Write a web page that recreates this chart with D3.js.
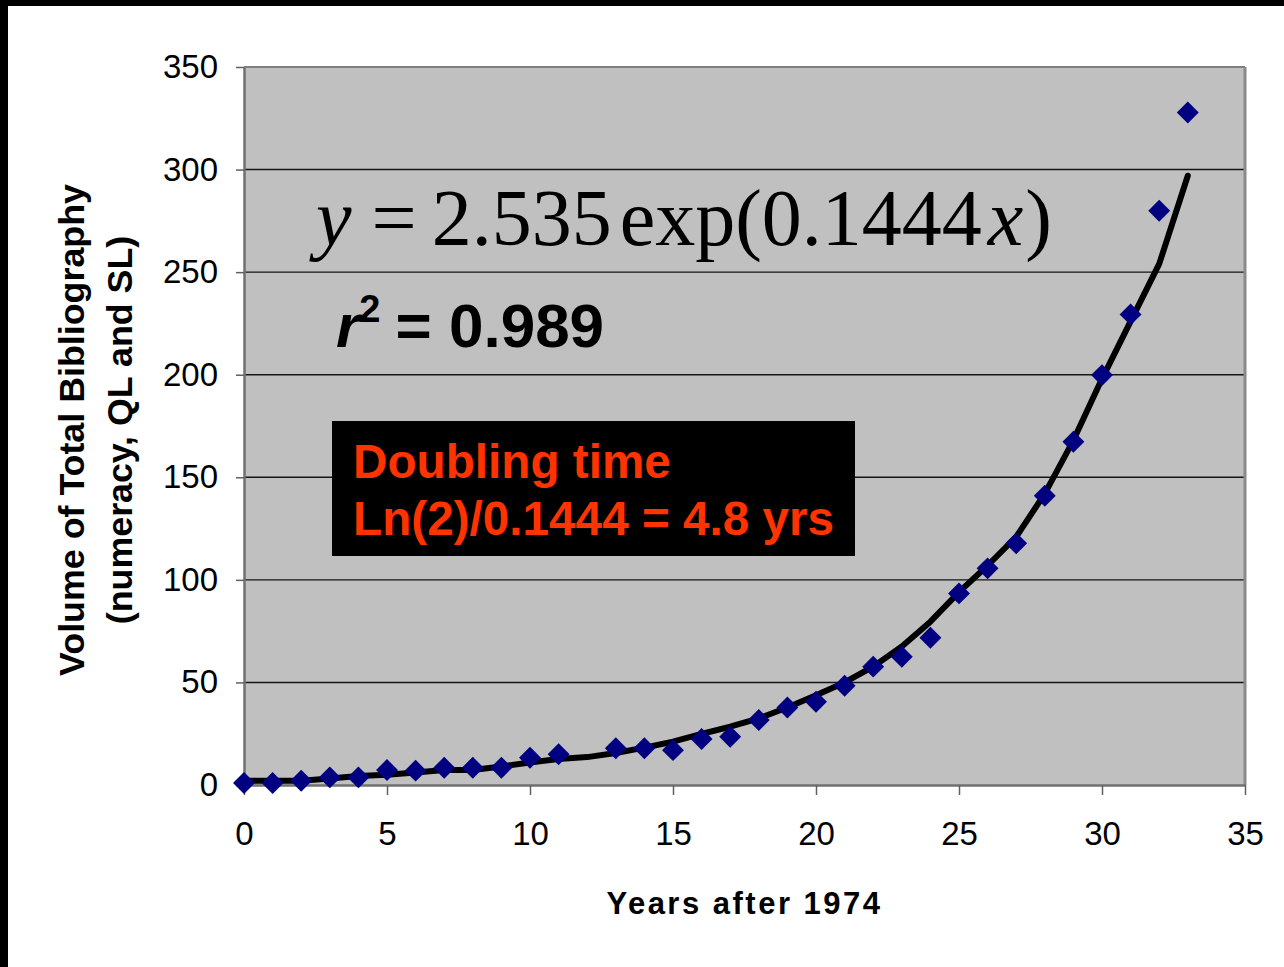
<!DOCTYPE html>
<html>
<head>
<meta charset="utf-8">
<script src="https://cdn.jsdelivr.net/npm/d3@7/dist/d3.min.js"></script>
<style>
  html, body { margin: 0; padding: 0; background: #ffffff; }
  svg { display: block; }
</style>
</head>
<body>
<svg id="chart" width="1284" height="967"></svg>
<script>
// ---- data ----
const years  = [0,1,2,3,4,5,6,7,8,9,10,11,13,14,15,16,17,18,19,20,21,22,23,24,25,26,27,28,29,30,31,32,33];
const volume = [1,1,2.1,3.7,3.7,7.3,7,8.4,8.4,8.4,13.3,15,17.9,17.9,17,22.4,23.5,31.7,37.8,40.6,48.4,57.7,62.5,71.8,93.4,105.6,117.8,141,167.3,199.8,229.4,279.9,327.8];
const fitYears  = [0,1,2,3,4,5,6,7,8,9,10,11,12,13,14,15,16,17,18,19,20,21,22,23,24,25,26,27,28,29,30,31,32,33];
const fitValues = [2.1,2.1,2.1,3.2,4.4,5.0,6.1,7.3,7.3,9.0,11.0,12.7,13.6,15.6,18.2,21.1,24.9,28.4,32.5,37.8,43.8,50.0,57.7,67.5,79.6,94,107,121,142,168,198,226,254,297];
const xTicks = [0,5,10,15,20,25,30,35];
const yTicks = [0,50,100,150,200,250,300,350];
const xTitle = "Years after 1974";
const yTitle1 = "Volume of Total Bibliography";
const yTitle2 = "(numeracy, QL and SL)";
const boxLine1 = "Doubling time";
const boxLine2 = "Ln(2)/0.1444 = 4.8 yrs";

(function(){
const svg = d3.select("#chart");
const W = 1284, H = 967;
const pLeft = 244, pRight = 1245, pTop = 67, pBottom = 785;

const x = d3.scaleLinear().domain([0,35]).range([pLeft,pRight]);
const y = d3.scaleLinear().domain([0,350]).range([pBottom,pTop]);

// page frame (black edges at top and left)
svg.append("rect").attr("x",0).attr("y",0).attr("width",W).attr("height",H).attr("fill","#fff");
svg.append("rect").attr("x",0).attr("y",0).attr("width",W).attr("height",6).attr("fill","#000");
svg.append("rect").attr("x",0).attr("y",0).attr("width",8).attr("height",H).attr("fill","#000");

// plot area
svg.append("rect").attr("x",pLeft).attr("y",pTop).attr("width",pRight-pLeft).attr("height",pBottom-pTop)
  .attr("fill","#c0c0c0");

// gridlines
svg.append("g").selectAll("line").data(yTicks.filter(d => d>0 && d<350)).join("line")
  .attr("x1",pLeft).attr("x2",pRight).attr("y1",d=>y(d)).attr("y2",d=>y(d))
  .attr("stroke","#141414").attr("stroke-width",1.4);

// borders top & right
svg.append("line").attr("x1",pLeft).attr("x2",pRight).attr("y1",pTop).attr("y2",pTop)
  .attr("stroke","#808080").attr("stroke-width",2);
svg.append("line").attr("x1",pRight).attr("x2",pRight).attr("y1",pTop).attr("y2",pBottom)
  .attr("stroke","#8a8a8a").attr("stroke-width",3);

// axes
const fontSans = "Arial, 'Liberation Sans', Helvetica, sans-serif";
const yAxis = svg.append("g").attr("transform",`translate(${pLeft},0)`)
  .call(d3.axisLeft(y).tickValues(yTicks).tickSize(8).tickPadding(18).tickSizeOuter(0));
const xAxis = svg.append("g").attr("transform",`translate(0,${pBottom})`)
  .call(d3.axisBottom(x).tickValues(xTicks).tickSize(10).tickPadding(27).tickSizeOuter(0));
[yAxis, xAxis].forEach(g => {
  g.select(".domain").attr("stroke","#707070").attr("stroke-width",2.5);
  g.selectAll(".tick line").attr("stroke","#606060").attr("stroke-width",1.5);
  g.selectAll(".tick text").attr("fill","#000").attr("font-family",fontSans).attr("font-size",33);
});

// fitted curve
const lineGen = d3.line().x((d,i)=>x(fitYears[i])).y(d=>y(d)).curve(d3.curveLinear);
svg.append("path").attr("d", lineGen(fitValues))
  .attr("fill","none").attr("stroke","#000").attr("stroke-width",6)
  .attr("stroke-linejoin","round").attr("stroke-linecap","round");

// data diamonds
const diamond = d3.symbol().type(d3.symbolSquare).size(240);
svg.append("g").selectAll("path").data(years).join("path")
  .attr("d", diamond())
  .attr("transform",(d,i)=>`translate(${x(d)},${y(volume[i])}) rotate(45)`)
  .attr("fill","#000080");

// equation
const eq = svg.append("text").attr("x",316).attr("y",245)
  .attr("font-family","'Times New Roman', 'Liberation Serif', serif").attr("font-size",80).attr("fill","#000");
eq.append("tspan").attr("font-style","italic").text("y");
eq.append("tspan").attr("dx",20).text("=");
eq.append("tspan").attr("dx",15).text("2.535");
eq.append("tspan").attr("dx",8).text("exp(0.1444");
eq.append("tspan").attr("dx",6).attr("font-style","italic").text("x");
eq.append("tspan").attr("dx",2).text(")");

// r^2
const r2 = svg.append("text").attr("x",336).attr("y",347)
  .attr("font-family",fontSans).attr("font-weight","bold").attr("font-size",62).attr("fill","#000");
r2.append("tspan").attr("font-style","italic").text("r");
r2.append("tspan").attr("font-size",38).attr("dy",-25).attr("dx",-1).text("2");
r2.append("tspan").attr("dy",25).attr("dx",-2).text(" = 0.989");

// doubling-time box
svg.append("rect").attr("x",332).attr("y",421).attr("width",523).attr("height",135).attr("fill","#000");
svg.append("text").attr("x",353).attr("y",478)
  .attr("font-family",fontSans).attr("font-weight","bold").attr("font-size",47.7).attr("fill","#ff3300")
  .text(boxLine1);
svg.append("text").attr("x",353).attr("y",535)
  .attr("font-family",fontSans).attr("font-weight","bold").attr("font-size",47.7).attr("fill","#ff3300")
  .text(boxLine2);

// axis titles
svg.append("text").attr("x",(pLeft+pRight)/2).attr("y",914).attr("text-anchor","middle")
  .attr("font-family",fontSans).attr("font-weight","bold").attr("font-size",31)
  .attr("letter-spacing",2.5).attr("fill","#000").text(xTitle);
const yt = svg.append("g").attr("transform","translate(84,430) rotate(-90)");
yt.append("text").attr("x",0).attr("y",0).attr("text-anchor","middle")
  .attr("font-family",fontSans).attr("font-weight","bold").attr("font-size",35.8)
  .attr("fill","#000").text(yTitle1);
yt.append("text").attr("x",0).attr("y",48).attr("text-anchor","middle")
  .attr("font-family",fontSans).attr("font-weight","bold").attr("font-size",35.8)
  .attr("fill","#000").text(yTitle2);
})();
</script>
</body>
</html>
